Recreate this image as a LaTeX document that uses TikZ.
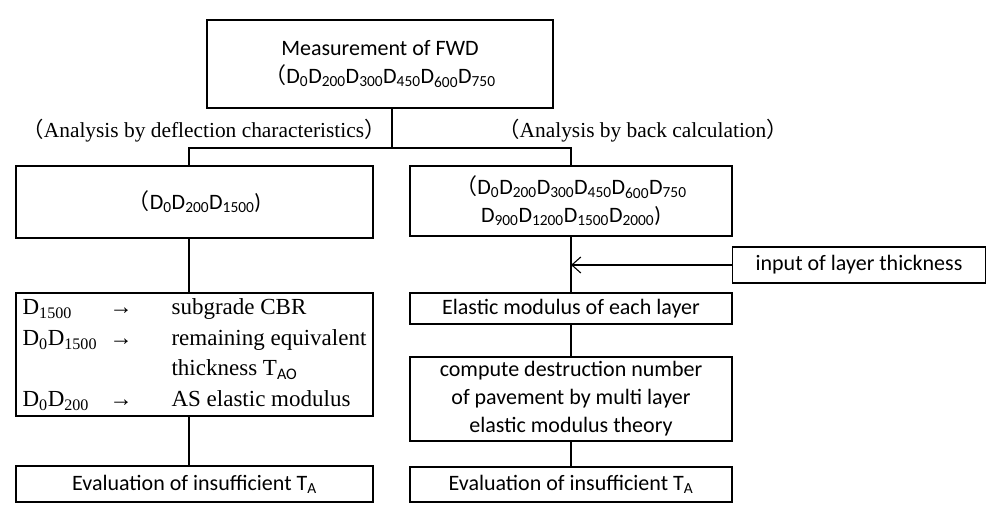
\documentclass[tikz,border=0pt]{standalone}
\usepackage{fontspec}
\setmainfont{Carlito}
\newfontfamily\serifrm{Liberation Serif}
\newfontfamily\cjkfont{Noto Sans CJK SC}
\usetikzlibrary{arrows.meta,positioning}

\newcommand{\Dsb}[1]{D\textsubscript{#1}}
\newcommand{\lpar}{{\cjkfont （}}
\newcommand{\rpar}{{\cjkfont ）}}

\begin{document}
\begin{tikzpicture}[
      x=1pt, y=-1pt,
      font=\fontsize{22}{28}\selectfont,
      boxA/.style={draw, line width=1.6pt, inner sep=2pt, align=center},
      boxB/.style={draw, line width=1.2pt, inner sep=2pt, align=center},
      lnA/.style={line width=1.6pt},
      lnB/.style={line width=1.1pt},
      branch/.style={font=\serifrm\fontsize{21.4}{26}\selectfont},
    ]
    \useasboundingbox (0,0) rectangle (993,506);

    % ---------- measurement ----------
    \node[boxA, minimum width=346pt, minimum height=88pt] (fwd) at (380,64)
      {Measurement of FWD\\
       \lpar\Dsb{0}\Dsb{200}\Dsb{300}\Dsb{450}\Dsb{600}\Dsb{750}};

    \node[branch] (lblL) at (204,131) {\lpar Analysis by deflection characteristics\rpar};
    \node[branch] (lblR) at (643,131) {\lpar Analysis by back calculation\rpar};

    \coordinate (split) at (392,148);
    \coordinate (lx) at (189,0);

    % ---------- left: deflection characteristics ----------
    \node[boxA, minimum width=357pt, minimum height=72pt] (defl) at (194.5,202)
      {\lpar\Dsb{0}\Dsb{200}\Dsb{1500})};

    \node[boxA, minimum width=357pt, minimum height=123pt, inner xsep=5pt, inner ysep=0pt] (rel) at (194.5,354.5)
      {\serifrm\fontsize{23}{30.5}\selectfont
       \begin{tabular}{@{}p{87pt}@{}p{62pt}@{}l@{}}
         \Dsb{1500}      & → & subgrade CBR\\
         \Dsb{0}\Dsb{1500} & → & remaining equivalent\\
                         &   & thickness T\textsubscript{\normalfont AO}\\
         \Dsb{0}\Dsb{200}  & → & AS elastic modulus
       \end{tabular}};

    \node[boxA, minimum width=357pt, minimum height=36pt] (evalL) at (194.5,484)
      {Evaluation of insufficient T\textsubscript{A}};

    % ---------- right: back calculation ----------
    \node[boxB, minimum width=322pt, minimum height=70pt] (allD) at (571,201)
      {\lpar\Dsb{0}\Dsb{200}\Dsb{300}\Dsb{450}\Dsb{600}\Dsb{750}\\
       \Dsb{900}\Dsb{1200}\Dsb{1500}\Dsb{2000})};

    \node[boxB, minimum width=253pt, minimum height=36pt] (inp) at (859,265)
      {input of layer thickness};

    \node[boxB, minimum width=322pt, minimum height=31pt] (elas) at (571,308.5)
      {Elastic modulus of each layer};

    \node[boxB, minimum width=322pt, minimum height=84pt] (comp) at (571,399)
      {compute destruction number\\of pavement by multi layer\\elastic modulus theory};

    \node[boxB, minimum width=322pt, minimum height=35pt] (evalR) at (571,484.5)
      {Evaluation of insufficient T\textsubscript{A}};

    % ---------- connectors ----------
    \draw[lnA] (fwd.south -| split) -- (split);
    \draw[lnA] (split) -| (lx |- defl.north);
    \draw[lnB] (split) -| (allD.north);

    \draw[lnA] (lx |- defl.south) -- (lx |- rel.north);
    \draw[lnA] (lx |- rel.south) -- (lx |- evalL.north);

    \draw[lnB] (allD) -- (elas);
    \draw[lnB] (elas) -- (comp);
    \draw[lnB] (comp) -- (evalR);

    \coordinate (hit) at (allD.south |- inp.west);
    \draw[lnB, -{Straight Barb[length=9pt, width=16pt]}] (inp.west) -- (hit);

\end{tikzpicture}
\end{document}
